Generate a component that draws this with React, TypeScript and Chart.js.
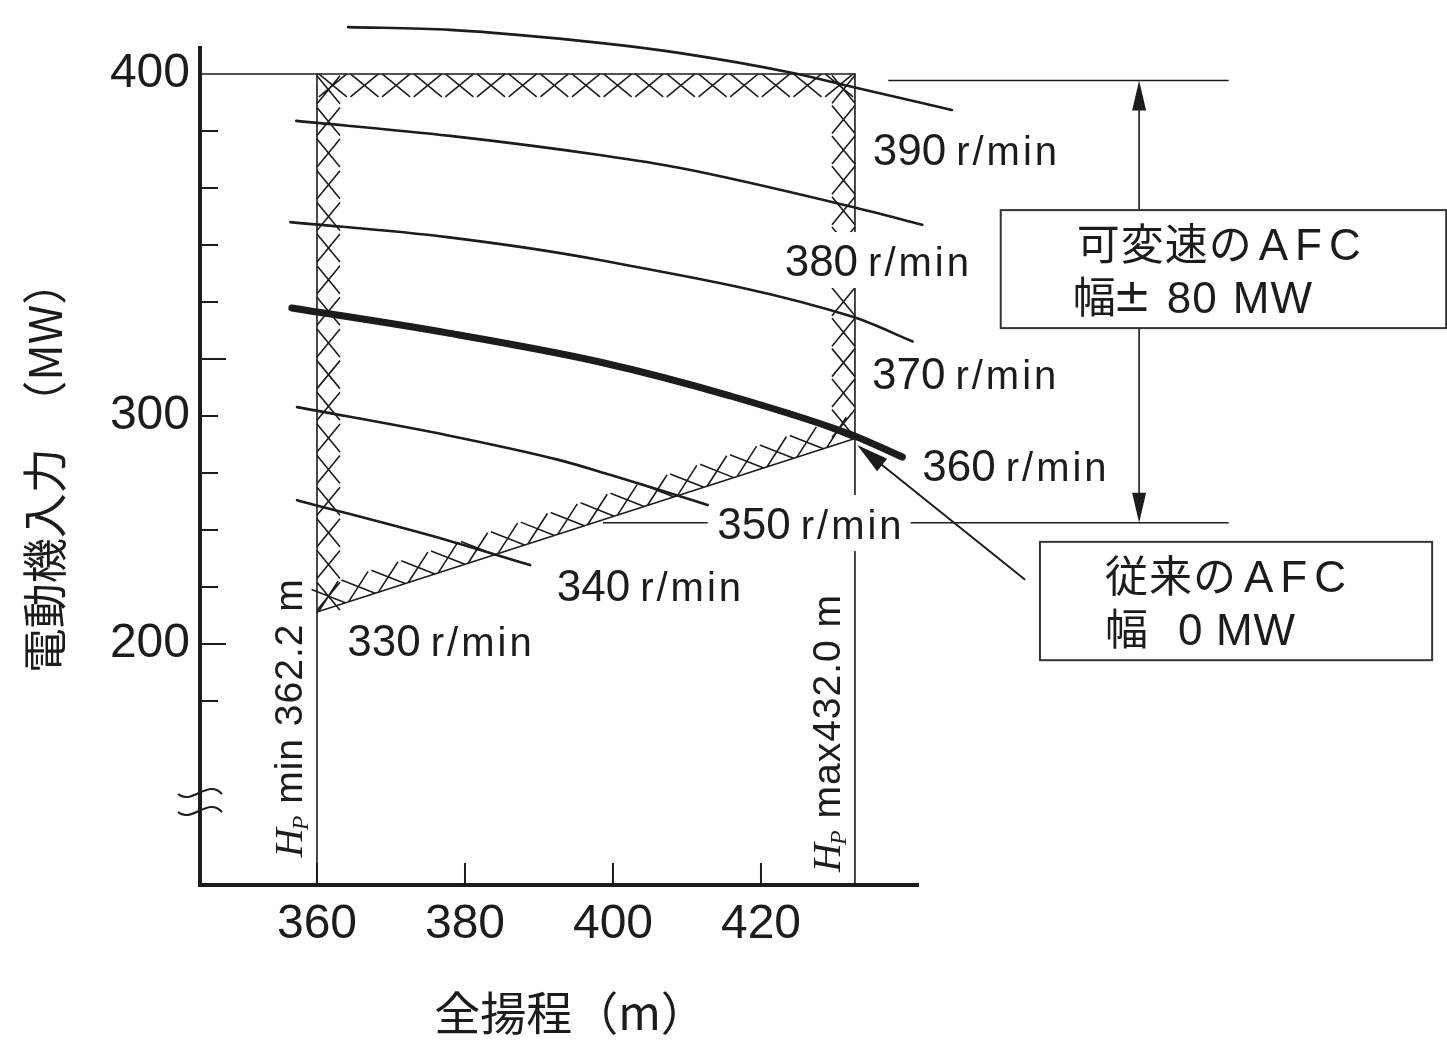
import React, { useEffect, useRef } from "react";
import { Chart, registerables } from "chart.js";

Chart.register(...registerables);

const W = 1447;
const H = 1044;
const SANS = '"Liberation Sans", Arial, Helvetica, sans-serif';
const SERIF = '"Liberation Serif", "DejaVu Serif", serif';
const CJK = '"Noto Sans CJK JP", "Noto Sans CJK SC", sans-serif';
const SYM = '"DejaVu Sans", sans-serif';
const INK = "#1c1c1c";

// ---------- axes ----------
const xRange = [344.19, 441.22];
const yRange = [162.87, 407.6];
const xTickValues = [360, 380, 400, 420];
const yTickTop = 400;
const yTickStep = 100 / 6;
const yTickLabels = ["400", "", "", "", "", "", "300", "", "", "", "200", ""];
const yLongTickIdx = [5, 10];
const yBreakValues = [190.06, 184.8];
const xTitle = "\u2002全揚程（m）";
const yTitle = "電動機入力\u2002（MW）";

// ---------- speed curves (total head m -> motor input MW) ----------
const speeds = [390, 380, 370, 360, 350, 340, 330];
const head390 = [364.2, 378.0, 398.2, 409.1, 424.3, 432.4, 445.8];
const power390 = [413.7, 412.9, 409.1, 406.1, 400.3, 396.2, 389.5];
const head380 = [357.2, 378.0, 398.2, 409.1, 432.4, 441.8];
const power380 = [386.3, 381.9, 376.3, 372.5, 361.1, 355.9];
const head370 = [356.4, 377.6, 398.2, 432.4, 440.5];
const power370 = [356.7, 352.3, 345.6, 329.0, 321.8];
const head360 = [356.6, 377.6, 398.2, 415.8, 432.4, 439.1];
const power360 = [331.6, 324.3, 315.8, 305.9, 294.4, 288.0];
const head350 = [357.3, 377.6, 392.8, 399.6, 412.8];
const power350 = [302.6, 294.4, 287.1, 282.8, 274.0];
const head340 = [357.3, 377.6, 388.8];
const power340 = [275.4, 263.7, 256.4];

// ---------- operating region ----------
const hpMin = 360.0;
const hpMax = 432.7;
const regionTop = 400;
const regionLowAtMin = 242.7;
const regionLowAtMax = 293.4;

// ---------- annotations (data units) ----------
const speedLabelHead = [435.1, 423.2, 435.0, 441.8, 414.1, 392.4, 364.1];
const speedLabelMW = [378.1, 345.6, 312.6, 285.7, 268.7, 250.6, 234.5];
const speedLabelMask = [false, true, false, false, true, false, false];
const hpLabelHead = [356.1, 428.8];
const hpLabelMW = [171.0, 166.7];
const hpLabelText = [" min 362.2 m", " max432.0 m"];
const afcArrowHead = 471.1;
const afcTopMW = 398.1;
const afcBottomMW = 268.8;
const afcTopRef = [437.2, 483.2];
const ref350 = [398.65, 412.8, 439.7, 483.2];
const box1 = [452.4, 512.6, 360.2, 325.7];
const box2 = [457.7, 510.7, 263.2, 228.6];
const pointerFrom = [455.7, 252.1];
const pointerTo = [433.0, 291.5];

const box1Lines = [
  [
    { t: "可変速の", f: "cjk", dx: 76, ls: 1 },
    { t: "AFC", f: "sans", dx: 258, ls: 7 },
  ],
  [
    { t: "幅", f: "cjk", dx: 72, ls: 0 },
    { t: "±", f: "sym", dx: 112, ls: 0 },
    { t: "80", f: "sans", dx: 166, ls: 1 },
    { t: "MW", f: "sans", dx: 232, ls: 1 },
  ],
];
const box2Lines = [
  [
    { t: "従来の", f: "cjk", dx: 65, ls: 1 },
    { t: "AFC", f: "sans", dx: 204, ls: 7 },
  ],
  [
    { t: "幅", f: "cjk", dx: 65, ls: 0 },
    { t: "0", f: "sans", dx: 138, ls: 0 },
    { t: "MW", f: "sans", dx: 176, ls: 1 },
  ],
];

function pts(h: number[], p: number[]) {
  return h.map((v, i) => ({ x: v, y: p[i] }));
}

function hatchAlong(ctx: any, ax: number, ay: number, bx: number, by: number, nx: number, ny: number) {
  const depth = 23;
  const spacing = 31;
  const half = 14;
  const dx = bx - ax;
  const dy = by - ay;
  const L = Math.hypot(dx, dy);
  const tx = dx / L;
  const ty = dy / L;
  const n = Math.max(1, Math.round(L / spacing));
  const step = L / n;
  const hn = depth / 2;
  for (let k = 0; k < n; k++) {
    const s = step * (k + 0.5);
    const cx = ax + tx * s + nx * hn;
    const cy = ay + ty * s + ny * hn;
    ctx.moveTo(cx - tx * half - nx * hn, cy - ty * half - ny * hn);
    ctx.lineTo(cx + tx * half + nx * hn, cy + ty * half + ny * hn);
    ctx.moveTo(cx + tx * half - nx * hn, cy + ty * half - ny * hn);
    ctx.lineTo(cx - tx * half + nx * hn, cy - ty * half + ny * hn);
  }
}

function arrowHead(ctx: any, tipX: number, tipY: number, fromX: number, fromY: number, len: number, halfW: number) {
  const dx = tipX - fromX;
  const dy = tipY - fromY;
  const L = Math.hypot(dx, dy);
  const ux = dx / L;
  const uy = dy / L;
  const bx = tipX - ux * len;
  const by = tipY - uy * len;
  ctx.beginPath();
  ctx.moveTo(tipX, tipY);
  ctx.lineTo(bx - uy * halfW, by + ux * halfW);
  ctx.lineTo(bx + uy * halfW, by - ux * halfW);
  ctx.closePath();
  ctx.fill();
}

function speedLabel(ctx: any, x: number, yMid: number, speed: number, mask: boolean) {
  ctx.save();
  ctx.textAlign = "left";
  ctx.textBaseline = "alphabetic";
  const numSize = 44;
  const unitSize = 40;
  ctx.font = `${numSize}px ${SANS}`;
  ctx.letterSpacing = "0px";
  const num = String(speed);
  const w1 = ctx.measureText(num).width;
  ctx.font = `${unitSize}px ${SANS}`;
  ctx.letterSpacing = "3px";
  const w2 = ctx.measureText("r/min").width;
  const gap = 10;
  const base = yMid + numSize * 0.36;
  if (mask) {
    ctx.fillStyle = "#ffffff";
    ctx.fillRect(x - 6, yMid - 28, w1 + gap + w2 + 12, 56);
  }
  ctx.fillStyle = INK;
  ctx.font = `${numSize}px ${SANS}`;
  ctx.letterSpacing = "0px";
  ctx.fillText(num, x, base);
  ctx.font = `${unitSize}px ${SANS}`;
  ctx.letterSpacing = "3px";
  ctx.fillText("r/min", x + w1 + gap, base);
  ctx.restore();
}

function hpLabel(ctx: any, cx: number, yBottom: number, rest: string) {
  ctx.save();
  ctx.translate(cx, yBottom);
  ctx.rotate(-Math.PI / 2);
  ctx.fillStyle = INK;
  ctx.textAlign = "left";
  ctx.textBaseline = "alphabetic";
  const base = 39 * 0.36;
  let x = 0;
  ctx.font = `italic 40px ${SERIF}`;
  ctx.fillText("H", x, base);
  x += ctx.measureText("H").width - 2;
  ctx.font = `italic 24px ${SERIF}`;
  ctx.fillText("P", x, base + 6);
  x += ctx.measureText("P").width;
  ctx.font = `39px ${SANS}`;
  ctx.letterSpacing = "1px";
  ctx.fillText(rest, x, base);
  ctx.restore();
}

function boxText(ctx: any, left: number, top: number, lines: any[]) {
  const mids = [34, 87];
  lines.forEach((runs: any[], li: number) => {
    runs.forEach((r: any) => {
      let size = 44;
      let fam = SANS;
      let k = 0.36;
      if (r.f === "cjk") {
        size = 43;
        fam = CJK;
        k = 0.38;
      } else if (r.f === "sym") {
        size = 46;
        fam = SYM;
        k = 0.3;
      }
      ctx.font = `${size}px ${fam}`;
      ctx.letterSpacing = `${r.ls}px`;
      const base = top + mids[li] + size * k;
      ctx.fillText(r.t, left + r.dx, base);
    });
  });
  ctx.letterSpacing = "0px";
}

const overlay = {
  id: "overlay",
  beforeDatasetsDraw(chart: any) {
    const ctx = chart.ctx;
    const xs = chart.scales.x;
    const ys = chart.scales.y;
    const X = (v: number) => xs.getPixelForValue(v);
    const Y = (v: number) => ys.getPixelForValue(v);
    const tl = [X(hpMin), Y(regionTop)];
    const tr = [X(hpMax), Y(regionTop)];
    const br = [X(hpMax), Y(regionLowAtMax)];
    const bl = [X(hpMin), Y(regionLowAtMin)];
    ctx.save();
    ctx.strokeStyle = INK;
    ctx.lineWidth = 1.6;
    ctx.beginPath();
    hatchAlong(ctx, tl[0], tl[1], tr[0], tr[1], 0, 1);
    hatchAlong(ctx, tr[0], tr[1], br[0], br[1], -1, 0);
    hatchAlong(ctx, bl[0], bl[1], tl[0], tl[1], 1, 0);
    const dx = br[0] - bl[0];
    const dy = br[1] - bl[1];
    const L = Math.hypot(dx, dy);
    hatchAlong(ctx, bl[0], bl[1], br[0], br[1], dy / L, -dx / L);
    ctx.stroke();
    ctx.restore();
  },
  afterDatasetsDraw(chart: any) {
    const ctx = chart.ctx;
    const xs = chart.scales.x;
    const ys = chart.scales.y;
    const area = chart.chartArea;
    const X = (v: number) => xs.getPixelForValue(v);
    const Y = (v: number) => ys.getPixelForValue(v);
    ctx.save();
    ctx.strokeStyle = INK;
    ctx.fillStyle = INK;

    // inward ticks
    ctx.lineWidth = 2;
    ctx.beginPath();
    ys.ticks.forEach((t: any, i: number) => {
      if (i === 0) return;
      const y = Y(t.value);
      const len = yLongTickIdx.includes(i) ? 26 : 18;
      ctx.moveTo(area.left, y);
      ctx.lineTo(area.left + len, y);
    });
    xs.ticks.forEach((t: any) => {
      const x = X(t.value);
      ctx.moveTo(x, area.bottom);
      ctx.lineTo(x, area.bottom - 22);
    });
    ctx.stroke();

    // axis break marks
    ctx.lineWidth = 2;
    yBreakValues.forEach((v) => {
      const y = Y(v);
      const x0 = area.left - 22;
      ctx.beginPath();
      ctx.moveTo(x0, y + 2);
      ctx.bezierCurveTo(x0 + 14, y + 14, x0 + 30, y - 14, x0 + 44, y + 2);
      ctx.stroke();
    });

    // reference lines for AFC range
    ctx.lineWidth = 1.5;
    ctx.beginPath();
    ctx.moveTo(X(afcTopRef[0]), Y(afcTopMW));
    ctx.lineTo(X(afcTopRef[1]), Y(afcTopMW));
    ctx.moveTo(X(ref350[0]), Y(afcBottomMW));
    ctx.lineTo(X(ref350[1]), Y(afcBottomMW));
    ctx.moveTo(X(ref350[2]), Y(afcBottomMW));
    ctx.lineTo(X(ref350[3]), Y(afcBottomMW));
    ctx.stroke();

    // speed labels
    speeds.forEach((s, i) => {
      speedLabel(ctx, X(speedLabelHead[i]), Y(speedLabelMW[i]), s, speedLabelMask[i]);
    });

    // Hp labels
    hpLabelText.forEach((t, i) => hpLabel(ctx, X(hpLabelHead[i]), Y(hpLabelMW[i]), t));

    // AFC double arrow
    const ax = X(afcArrowHead);
    const yT = Y(afcTopMW);
    const yB = Y(afcBottomMW);
    const b1 = [X(box1[0]), X(box1[1]), Y(box1[2]), Y(box1[3])];
    const b2 = [X(box2[0]), X(box2[1]), Y(box2[2]), Y(box2[3])];
    ctx.lineWidth = 1.6;
    ctx.beginPath();
    ctx.moveTo(ax, yT + 20);
    ctx.lineTo(ax, b1[2]);
    ctx.moveTo(ax, b1[3]);
    ctx.lineTo(ax, yB - 20);
    ctx.stroke();
    arrowHead(ctx, ax, yT, ax, yT + 50, 30, 7);
    arrowHead(ctx, ax, yB, ax, yB - 50, 30, 7);

    // pointer arrow
    const pf = [X(pointerFrom[0]), Y(pointerFrom[1])];
    const pt = [X(pointerTo[0]), Y(pointerTo[1])];
    ctx.lineWidth = 2;
    ctx.beginPath();
    ctx.moveTo(pf[0], pf[1]);
    ctx.lineTo(pt[0] + (pf[0] - pt[0]) * 0.1, pt[1] + (pf[1] - pt[1]) * 0.1);
    ctx.stroke();
    arrowHead(ctx, pt[0], pt[1], pf[0], pf[1], 32, 8);

    // boxes
    [b1, b2].forEach((b) => {
      ctx.fillStyle = "#ffffff";
      ctx.fillRect(b[0], b[2], b[1] - b[0], b[3] - b[2]);
      ctx.strokeStyle = "#333";
      ctx.lineWidth = 2;
      ctx.strokeRect(b[0], b[2], b[1] - b[0], b[3] - b[2]);
    });
    ctx.fillStyle = INK;
    ctx.textAlign = "left";
    ctx.textBaseline = "alphabetic";
    boxText(ctx, b1[0], b1[2], box1Lines);
    boxText(ctx, b2[0], b2[2], box2Lines);
    ctx.restore();
  },
};

function lineSet(data: any[], width: number) {
  return {
    data,
    showLine: true,
    borderColor: INK,
    borderWidth: width,
    pointRadius: 0,
    cubicInterpolationMode: data.length > 2 ? "monotone" : "default",
    clip: false,
    borderCapStyle: "round",
  };
}

export default function App() {
  const ref = useRef<HTMLCanvasElement>(null);
  useEffect(() => {
    const canvas = ref.current;
    if (!canvas) return;
    const datasets = [
      lineSet(pts(head390, power390), 2.6),
      lineSet(pts(head380, power380), 2.6),
      lineSet(pts(head370, power370), 2.6),
      lineSet(pts(head360, power360), 7),
      lineSet(pts(head350, power350), 2.6),
      lineSet(pts(head340, power340), 2.6),
      lineSet([{ x: xRange[0], y: regionTop }, { x: hpMax, y: regionTop }], 1.6),
      lineSet([{ x: hpMin, y: regionTop }, { x: hpMin, y: yRange[0] }], 1.6),
      lineSet([{ x: hpMax, y: regionTop }, { x: hpMax, y: yRange[0] }], 1.6),
      lineSet([{ x: hpMin, y: regionLowAtMin }, { x: hpMax, y: regionLowAtMax }], 1.6),
    ];
    const chart = new Chart(canvas, {
      type: "scatter",
      data: { datasets } as any,
      plugins: [overlay],
      options: {
        responsive: false,
        devicePixelRatio: 1,
        animation: false,
        events: [],
        layout: { padding: { left: 0, top: 48, right: W - 918, bottom: 0 } },
        plugins: { legend: { display: false }, tooltip: { enabled: false } },
        scales: {
          x: {
            type: "linear",
            min: xRange[0],
            max: xRange[1],
            afterBuildTicks: (s: any) => {
              s.ticks = xTickValues.map((v) => ({ value: v }));
            },
            afterFit: (s: any) => {
              s.height = H - 885;
            },
            grid: { display: false, drawTicks: false },
            border: { display: true, color: INK, width: 4 },
            ticks: {
              color: INK,
              font: { family: SANS, size: 48 },
              padding: 11,
              maxRotation: 0,
              autoSkip: false,
              callback: (v: any) => String(v),
            },
            title: {
              display: true,
              text: xTitle,
              color: INK,
              font: { family: CJK, size: 46 },
              padding: { top: 0, bottom: 4 },
            },
          },
          y: {
            type: "linear",
            min: yRange[0],
            max: yRange[1],
            afterBuildTicks: (s: any) => {
              s.ticks = yTickLabels.map((_, i) => ({ value: yTickTop - i * yTickStep }));
            },
            afterFit: (s: any) => {
              s.width = 200;
            },
            grid: { display: false, drawTicks: false },
            border: { display: true, color: INK, width: 4 },
            ticks: {
              color: INK,
              font: { family: SANS, size: 48 },
              padding: 10,
              autoSkip: false,
              callback: (_v: any, i: number) => yTickLabels[i],
            },
            title: {
              display: true,
              text: yTitle,
              color: INK,
              font: { family: CJK, size: 45 },
              padding: { top: 18, bottom: 0 },
            },
          },
        },
      } as any,
    });
    return () => chart.destroy();
  }, []);
  return (
    <div style={{ position: "fixed", left: 0, top: 0, width: W, height: H, background: "#fff" }}>
      <canvas ref={ref} width={W} height={H} style={{ width: W, height: H, display: "block" }} />
    </div>
  );
}
